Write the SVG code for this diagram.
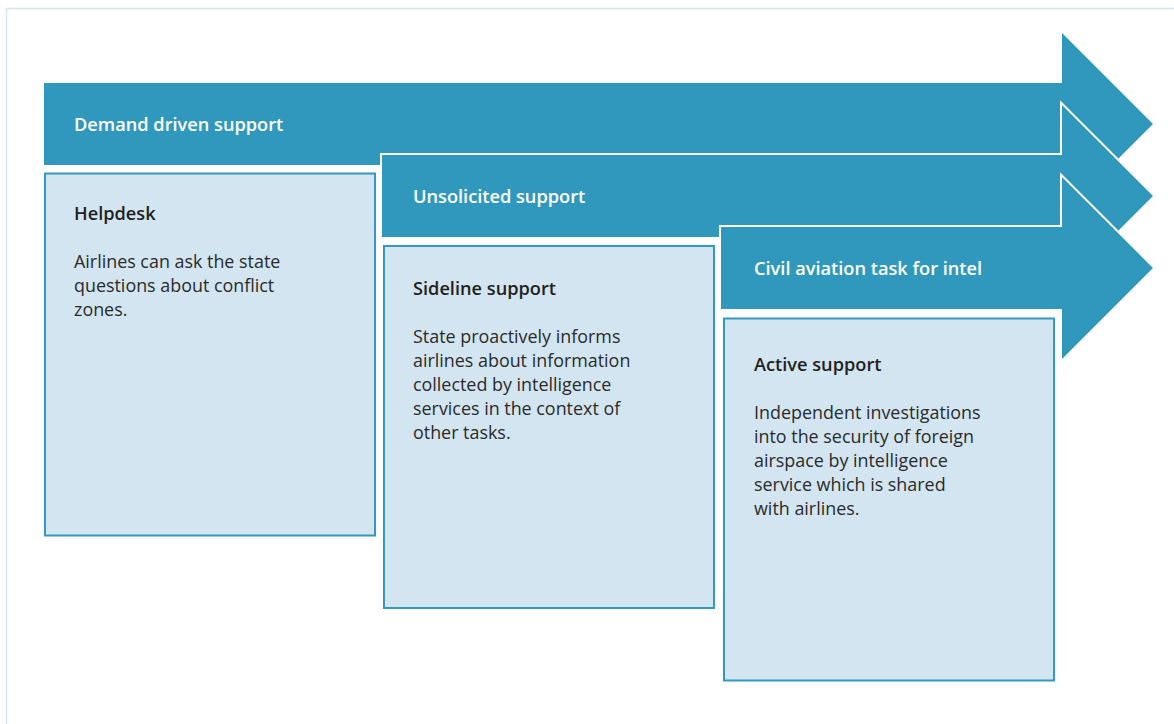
<svg xmlns="http://www.w3.org/2000/svg" width="1174" height="724" viewBox="0 0 1174 724">
  <style>
    .frame { fill: #ffffff; stroke: #cfe6f3; stroke-width: 1.5; }
    .arrow { fill: #3198bd; stroke: #ffffff; stroke-width: 4; stroke-linejoin: miter; stroke-miterlimit: 10; paint-order: stroke; }
    .arrow.first { stroke: none; }
    .box { fill: #d2e5f0; stroke: #3399c0; stroke-width: 2; }
    .band { font-family: "Open Sans", "Noto Sans", sans-serif; font-weight: 600; font-size: 18.2px; fill: #ffffff; }
    .head { font-family: "Open Sans", "Noto Sans", sans-serif; font-weight: 600; font-size: 18.2px; fill: #231f20; }
    .body { font-family: "Open Sans", "Noto Sans", sans-serif; font-weight: 400; font-size: 17.9px; fill: #2b2b2b; }
  </style>

  <!-- outer frame -->
  <rect class="frame" x="6.5" y="8.5" width="1180" height="730"/>

  <!-- banner arrows, drawn back to front -->
  <g id="arrow-demand">
    <polygon class="arrow first" points="44,83 1062,83 1062,33 1153,124 1062,215 1062,165 44,165"/>
    <text class="band" x="74" y="131">Demand driven support</text>
  </g>
  <g id="arrow-unsolicited">
    <polygon class="arrow" points="382,155 1062,155 1062,105 1153,196 1062,287 1062,237 382,237"/>
    <text class="band" x="413" y="203">Unsolicited support</text>
  </g>
  <g id="arrow-civil">
    <polygon class="arrow" points="721,227 1062,227 1062,177 1153,268 1062,359 1062,309 721,309"/>
    <text class="band" x="754" y="275">Civil aviation task for intel</text>
  </g>

  <!-- description panels -->
  <g id="box-helpdesk">
    <rect class="box" x="45" y="173.5" width="330" height="362"/>
    <text class="head" x="74" y="220">Helpdesk</text>
    <text class="body" x="74" y="268">Airlines can ask the state</text>
    <text class="body" x="74" y="292">questions about conflict</text>
    <text class="body" x="74" y="316">zones.</text>
  </g>
  <g id="box-sideline">
    <rect class="box" x="384" y="246" width="330" height="362"/>
    <text class="head" x="413" y="295">Sideline support</text>
    <text class="body" x="413" y="343">State proactively informs</text>
    <text class="body" x="413" y="367">airlines about information</text>
    <text class="body" x="413" y="391">collected by intelligence</text>
    <text class="body" x="413" y="415">services in the context of</text>
    <text class="body" x="413" y="439">other tasks.</text>
  </g>
  <g id="box-active">
    <rect class="box" x="724" y="318.5" width="330" height="362"/>
    <text class="head" x="754" y="371">Active support</text>
    <text class="body" x="754" y="419">Independent investigations</text>
    <text class="body" x="754" y="443">into the security of foreign</text>
    <text class="body" x="754" y="467">airspace by intelligence</text>
    <text class="body" x="754" y="491">service which is shared</text>
    <text class="body" x="754" y="515">with airlines.</text>
  </g>

  <!-- no separate connectors: the arrows are the flow -->
  <g id="connectors"/>
</svg>
